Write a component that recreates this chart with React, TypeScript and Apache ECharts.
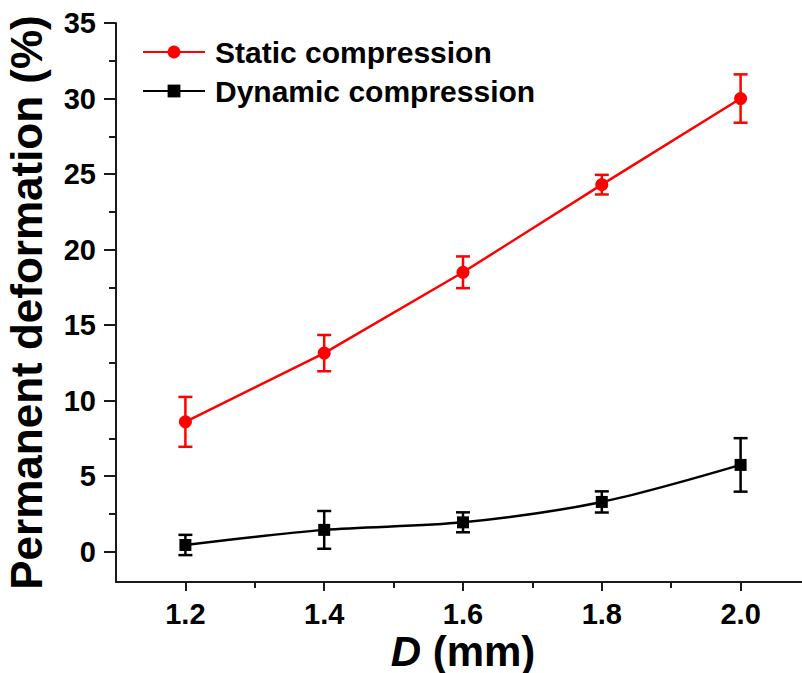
import React, { useEffect, useRef } from "react";
import * as echarts from "echarts";

const xValues = [1.2, 1.4, 1.6, 1.8, 2.0];
const staticValues = [8.6, 13.15, 18.5, 24.3, 30.0];
const staticErrors = [1.65, 1.2, 1.05, 0.65, 1.6];
const dynamicValues = [0.45, 1.45, 1.95, 3.3, 5.75];
const dynamicErrors = [0.67, 1.25, 0.66, 0.7, 1.77];
const xTickLabels = [1.2, 1.4, 1.6, 1.8, 2.0];
const xMinorTicks = [1.3, 1.5, 1.7, 1.9];
const yTickLabels = [0, 5, 10, 15, 20, 25, 30, 35];
const yMinorTicks = [2.5, 7.5, 12.5, 17.5, 22.5, 27.5, 32.5];

const FONT = "'Liberation Sans', Arial, Helvetica, sans-serif";
const AXIS_COLOR = "#1a1a1a";

function errorSeries(name: string, values: number[], errs: number[], color: string) {
  return {
    name,
    type: "custom",
    xAxisIndex: 0,
    yAxisIndex: 0,
    z: 2,
    encode: { x: 0, y: [1, 2] },
    data: xValues.map((x, i) => [x, values[i] - errs[i], values[i] + errs[i]]),
    renderItem: (params: any, api: any) => {
      const x = api.value(0);
      const lo = api.coord([x, api.value(1)]);
      const hi = api.coord([x, api.value(2)]);
      const hw = 7;
      const style = { stroke: color, lineWidth: 2.5, fill: "none" };
      return {
        type: "group",
        children: [
          { type: "line", shape: { x1: lo[0], y1: lo[1], x2: hi[0], y2: hi[1] }, style },
          { type: "line", shape: { x1: lo[0] - hw, y1: lo[1], x2: lo[0] + hw, y2: lo[1] }, style },
          { type: "line", shape: { x1: hi[0] - hw, y1: hi[1], x2: hi[0] + hw, y2: hi[1] }, style },
        ],
      };
    },
  };
}

export default function App() {
  const ref = useRef<HTMLDivElement>(null);
  useEffect(() => {
    if (!ref.current) return;
    const chart = echarts.init(ref.current, null, { renderer: "svg" });
    const option: any = {
      animation: false,
      backgroundColor: "#ffffff",
      textStyle: { fontFamily: FONT },
      grid: { left: 116, top: 23, height: 559, width: 694, containLabel: false, outerBoundsMode: "none" },
      legend: {
        orient: "vertical",
        left: 137,
        top: 32,
        itemWidth: 62,
        itemHeight: 16,
        itemGap: 9,
        data: ["Static compression", "Dynamic compression"],
        textStyle: { fontFamily: FONT, fontWeight: "bold", fontSize: 30, color: "#000", padding: [0, 0, 0, 5] },
      },
      xAxis: [
        {
          type: "value",
          min: 1.1,
          max: 2.1,
          name: "{i|D} (mm)",
          nameLocation: "middle",
          nameGap: 48,
          nameMoveOverlap: false,
          nameTextStyle: {
            fontFamily: FONT,
            fontWeight: "bold",
            fontSize: 42,
            color: "#000",
            rich: { i: { fontFamily: FONT, fontWeight: "bold", fontStyle: "italic", fontSize: 42, color: "#000" } },
          },
          axisLine: { show: true, onZero: false, lineStyle: { color: AXIS_COLOR, width: 2 } },
          axisTick: { show: true, inside: false, length: 9, customValues: xTickLabels, lineStyle: { color: AXIS_COLOR, width: 2 } },
          axisLabel: {
            customValues: xTickLabels,
            formatter: (v: number) => v.toFixed(1),
            margin: 17,
            fontFamily: FONT,
            fontWeight: "bold",
            fontSize: 29,
            color: "#000",
          },
          splitLine: { show: false },
        },
        {
          type: "value",
          min: 1.1,
          max: 2.1,
          position: "bottom",
          axisLine: { show: false, onZero: false },
          axisTick: { show: true, inside: false, length: 6, customValues: xMinorTicks, lineStyle: { color: AXIS_COLOR, width: 2 } },
          axisLabel: { show: false },
          splitLine: { show: false },
        },
      ],
      yAxis: [
        {
          type: "value",
          min: -2,
          max: 35,
          name: "Permanent deformation (%)",
          nameLocation: "middle",
          nameGap: 68,
          nameMoveOverlap: false,
          nameTextStyle: { fontFamily: FONT, fontWeight: "bold", fontSize: 44, color: "#000" },
          axisLine: { show: true, onZero: false, lineStyle: { color: AXIS_COLOR, width: 2 } },
          axisTick: { show: true, inside: false, length: 12, customValues: yTickLabels, lineStyle: { color: AXIS_COLOR, width: 2 } },
          axisLabel: {
            customValues: yTickLabels,
            margin: 20,
            fontFamily: FONT,
            fontWeight: "bold",
            fontSize: 29,
            color: "#000",
          },
          splitLine: { show: false },
        },
        {
          type: "value",
          min: -2,
          max: 35,
          position: "left",
          axisLine: { show: false, onZero: false },
          axisTick: { show: true, inside: false, length: 7, customValues: yMinorTicks, lineStyle: { color: AXIS_COLOR, width: 2 } },
          axisLabel: { show: false },
          splitLine: { show: false },
        },
      ],
      series: [
        errorSeries("Static error", staticValues, staticErrors, "#ff0000"),
        errorSeries("Dynamic error", dynamicValues, dynamicErrors, "#000000"),
        {
          name: "Static compression",
          type: "line",
          xAxisIndex: 0,
          yAxisIndex: 0,
          z: 3,
          data: xValues.map((x, i) => [x, staticValues[i]]),
          symbol: "circle",
          symbolSize: 13,
          lineStyle: { color: "#ff0000", width: 2.5 },
          itemStyle: { color: "#ff0000" },
        },
        {
          name: "Dynamic compression",
          type: "line",
          xAxisIndex: 0,
          yAxisIndex: 0,
          z: 3,
          smooth: 0.3,
          data: xValues.map((x, i) => [x, dynamicValues[i]]),
          symbol: "rect",
          symbolSize: 12,
          lineStyle: { color: "#000000", width: 2.5 },
          itemStyle: { color: "#000000" },
        },
      ],
    };
    chart.setOption(option);
    return () => chart.dispose();
  }, []);
  return <div ref={ref} style={{ position: "absolute", left: 0, top: 0, width: 802, height: 673 }} />;
}
